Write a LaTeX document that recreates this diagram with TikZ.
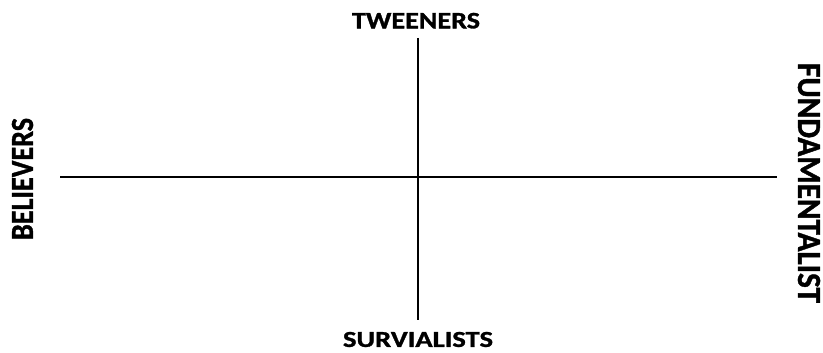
\documentclass[tikz,border=0pt]{standalone}
\usepackage{fontspec}
\setmainfont{Carlito}[BoldFeatures={FakeBold=1.2}]
\usepackage{graphicx}
\begin{document}
\begin{tikzpicture}[x=1pt,y=1pt,
  lbl/.style={inner sep=0pt, outer sep=0pt, anchor=center},
  axis/.style={line width=1.4pt, black}]
\useasboundingbox (0,0) rectangle (823,353);
\coordinate (hl) at (60,176);
\coordinate (hr) at (777,176);
\coordinate (vt) at (418,315);
\coordinate (vb) at (418,33);
\draw[axis] (hl) -- (hr);
\draw[axis] (vt) -- (vb);
\node[lbl] (top) at (416,332.3) {\resizebox{128pt}{15.5pt}{\bfseries TWEENERS}};
\node[lbl] (bot) at (418,13.5) {\resizebox{150pt}{15pt}{\bfseries SURVIALISTS}};
\node[lbl, rotate=90] (left) at (22.5,174) {\resizebox{122pt}{21pt}{\bfseries BELIEVERS}};
\node[lbl, rotate=-90] (right) at (809,170) {\resizebox{240pt}{22pt}{\bfseries FUNDAMENTALIST}};
\end{tikzpicture}
\end{document}
